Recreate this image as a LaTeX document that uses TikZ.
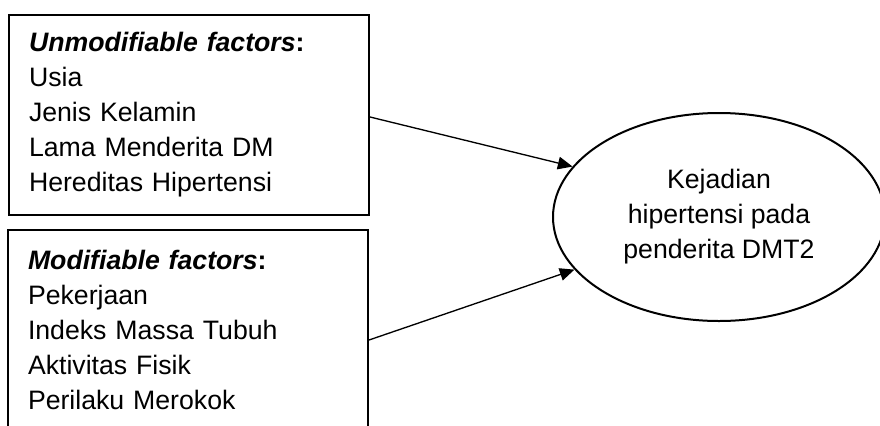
\documentclass[tikz,border=0pt]{standalone}
\usepackage{fontspec}
\setmainfont{Liberation Sans}
\usetikzlibrary{arrows.meta,shapes.geometric}

\tikzset{every picture/.style={line width=0.75pt}}
\tikzset{
  factorbox/.style={draw, line width=1.5pt, rectangle, minimum width=270pt, inner xsep=15pt, inner ysep=0pt, text width=240pt, align=left, font=\fontsize{20}{26.25}\selectfont},
  outcomebox/.style={draw, line width=1.5pt, ellipse, minimum width=249pt, minimum height=156pt, inner sep=0pt, align=center, font=\fontsize{20}{26.25}\selectfont},
  link/.style={-{Triangle[length=11pt,width=9.5pt]}, line width=1pt}
}

\begin{document}
\begin{tikzpicture}[x=0.75pt,y=0.75pt,yscale=-1,xscale=1]

\useasboundingbox (0,0) rectangle (880,425);
\clip (0,0) rectangle (880,425);

\node (unmod) at (189,115) [factorbox, minimum height=150pt] {\textbf{\textit{Unmodifiable factors}:}\\ Usia\\ Jenis Kelamin\\ Lama Menderita DM\\ Hereditas Hipertensi};
\node (mod) at (188,330) [factorbox, minimum height=150pt] {\textbf{\textit{Modifiable factors}:}\\ Pekerjaan\\ Indeks Massa Tubuh\\ Aktivitas Fisik\\ Perilaku Merokok};

\node (outcome) at (719,217) [outcomebox] {Kejadian\\ hipertensi pada\\ penderita DMT2};

\draw [link]  ([yshift=1.5pt]unmod.east) -- (outcome.161) ;
\draw [link]  ([yshift=7.5pt]mod.east) -- (outcome.200) ;

\end{tikzpicture}
\end{document}
